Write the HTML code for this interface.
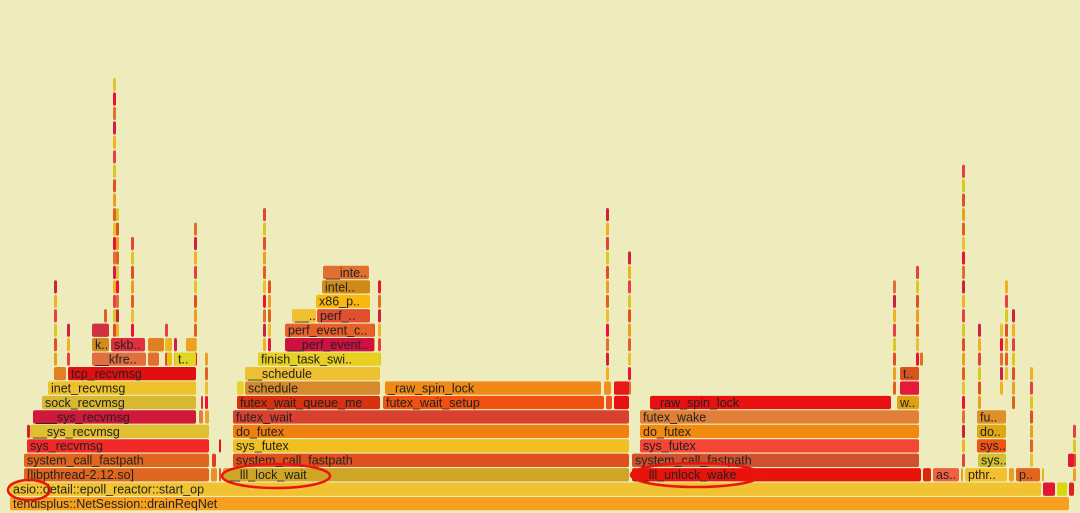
<!DOCTYPE html>
<html><head><meta charset="utf-8">
<style>
html,body{margin:0;padding:0;}
body{width:1080px;height:513px;overflow:hidden;background:#eeecbc;font-family:"Liberation Sans",sans-serif;}
svg{display:block}
</style></head>
<body>
<svg id="fg" width="1080" height="513" xmlns="http://www.w3.org/2000/svg">
<rect x="0" y="0" width="1080" height="513" fill="#eeecbc"/>
<g id="frames"></g>
<g id="marks">
<ellipse cx="29" cy="490" rx="21" ry="10" fill="none" stroke="#e8160c" stroke-width="2.5"/>
<ellipse cx="276" cy="476" rx="54" ry="12" fill="none" stroke="#e8160c" stroke-width="2.5"/>
<ellipse cx="696" cy="475" rx="65" ry="12" fill="none" stroke="#e8160c" stroke-width="2.5"/>
</g>
</svg>
<script>
const BASE = 497, PITCH = 14.45, H = 13.3;
// frames: x, width, level, color, label
const frameX = [10,10,1043,1057,1069,24,211,219,223,632,923,933,961,965,1009,1016,1042,
 24,212,233,632,978,1068, 27,219,233,640,977, 27,30,233,640,977, 33,199,205,233,640,977,
 42,201,237,383,606,614,650,897, 48,237,245,385,604,614,900, 54,68,245,900,
 92,148,167,175,258,920, 92,111,148,167,186,285, 92,285, 292,317, 316, 322, 323];
const frameW = [1060,1032,13,11,6,186,7,3,407,290,9,27,3,43,6,25,3,
 186,5,397,288,29,7, 183,3,397,280,30, 4,180,397,280,30, 164,5,5,397,280,30,
 155,3,144,222,7,16,242,23, 149,8,136,217,8,16,20, 13,129,136,20,
 55,12,6,22,123,4, 18,35,17,6,11,90, 18,90, 25,54, 55, 49, 47];
const frameLevel = [0,1,1,1,1,2,2,2,2,2,2,2,2,2,2,2,2,
 3,3,3,3,3,3, 4,4,4,4,4, 5,5,5,5,5, 6,6,6,6,6,6,
 7,7,7,7,7,7,7,7, 8,8,8,8,8,8,8, 9,9,9,9,
 10,10,10,10,10,10, 11,11,11,11,11,11, 12,12, 13,13, 14, 15, 16];
const frameColor = ["#f7a020","#f1c232","#e01838","#d8d810","#e02020","#e0651f","#e8902a","#e05020","#cfa525","#e8140c","#d82a10","#f06040","#e8a020","#f5c030","#e8a020","#e0651f","#e8b020",
 "#e0651f","#e04020","#e0501e","#d05030","#d0c030","#e01838", "#f02828","#e01020","#f0c020","#f54535","#f05515", "#d82030","#e0c030","#f08010","#f08a10","#e0a810",
 "#d0183a","#e08040","#f0a030","#d84030","#e08038","#e0902a",
 "#d8b830","#e03030","#d83010","#f05010","#f05020","#e81010","#e81010","#e0a010",
 "#eec22a","#e8d030","#d88a2a","#f08a15","#f09020","#e81818","#e81838",
 "#e08020","#e01010","#ecc030","#d85520",
 "#e07040","#e07030","#e8c010","#e0d820","#e8d020","#e07020",
 "#d08a20","#e03040","#e08020","#f0b020","#f0a020","#d01040",
 "#d03040","#e8602a", "#f0c030","#e05030", "#f8b810", "#d08a18", "#e07030"];
const frameLabel = ["tendisplus::NetSession::drainReqNet","asio::detail::epoll_reactor::start_op","","","","[libpthread-2.12.so]","","","__lll_lock_wait","__lll_unlock_wake","","as..","","pthr..","","p..","",
 "system_call_fastpath","","system_call_fastpath","system_call_fastpath","sys..","", "sys_recvmsg","","sys_futex","sys_futex","sys..", "","__sys_recvmsg","do_futex","do_futex","do..",
 "___sys_recvmsg","","","futex_wait","futex_wake","fu..",
 "sock_recvmsg","","futex_wait_queue_me","futex_wait_setup","","","_raw_spin_lock","w..",
 "inet_recvmsg","","schedule","_raw_spin_lock","","","",
 "","tcp_recvmsg","__schedule","t..",
 "__kfre..","","","t..","finish_task_swi..","",
 "k..","skb..","","","","__perf_event..",
 "","perf_event_c..", "__..","perf_..", "x86_p..", "intel..", "__inte.."];
// thin spikes: x, top level, base level
const spikeX = [54,67,104,113,116,131,150,165,174,194,205,263,268,372,378,606,628,893,905,916,962,978,1000,1005,1012,1030,1073];
const spikeTop = [15,12,13,29,20,18,11,12,11,19,10,20,15,12,15,20,17,15,9,16,23,12,12,15,13,9,5];
const spikeBase = [10,10,10,10,10,10,10,10,10,10,7,11,10,10,10,9,8,8,8,8,3,7,8,9,7,3,2];
const palette = ["#e8a020","#e05020","#d8c820","#e84040","#f0b020","#d02040","#e07030","#f01030","#e8c030","#e06020"];

const NS = "http://www.w3.org/2000/svg";
const g = document.getElementById("frames");
function yOf(level){ return BASE - level*PITCH; }
function addRect(x,w,level,color,label){
  const r = document.createElementNS(NS,"rect");
  r.setAttribute("x",x); r.setAttribute("y",yOf(level));
  r.setAttribute("width",Math.max(w-1,1)); r.setAttribute("height",H);
  r.setAttribute("rx",2); r.setAttribute("fill",color);
  
  
  g.appendChild(r);
  if(label){
    const t = document.createElementNS(NS,"text");
    t.setAttribute("x",x+3); t.setAttribute("y",yOf(level)+11);
    t.setAttribute("font-size","12.5"); t.setAttribute("fill","#222");
    t.setAttribute("font-family","Liberation Sans, sans-serif");
    t.textContent = label;
    
    
    g.appendChild(t);
  }
}
for(let i=0;i<spikeX.length;i++){
  for(let l=spikeBase[i]; l<=spikeTop[i]; l++){
    addRect(spikeX[i],4,l,palette[(i*3+l)%palette.length],"");
  }
}
for(let i=0;i<frameX.length;i++){
  addRect(frameX[i],frameW[i],frameLevel[i],frameColor[i],frameLabel[i]);
}
</script>
</body></html>
